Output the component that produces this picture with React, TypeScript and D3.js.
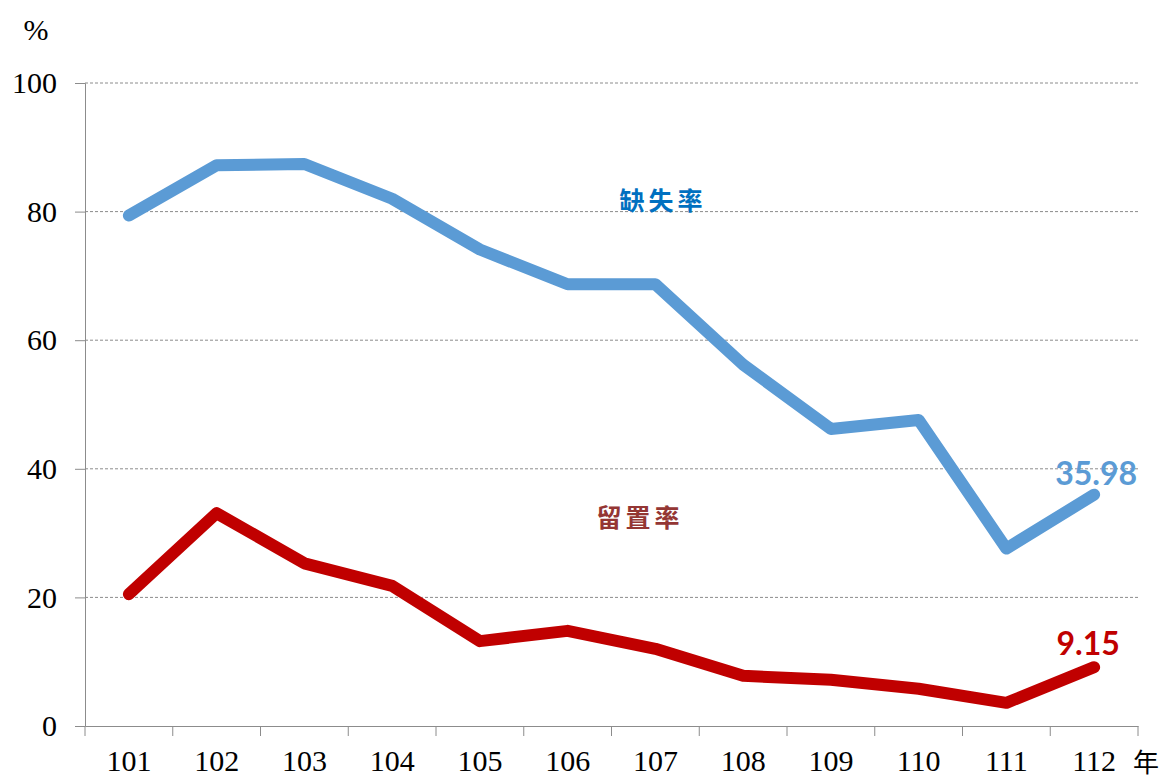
import { useEffect, useRef } from 'react';
import * as d3 from 'd3';

const years = ['101', '102', '103', '104', '105', '106', '107', '108', '109', '110', '111', '112'];
const missingRate = [79.4, 87.2, 87.4, 82.0, 74.1, 68.7, 68.7, 56.2, 46.2, 47.6, 27.6, 35.98];
const detainRate = [20.5, 33.1, 25.3, 21.8, 13.2, 14.8, 12.0, 7.8, 7.2, 5.8, 3.6, 9.15];
const yTicks = [0, 20, 40, 60, 80, 100];

const W = 1160;
const H = 778;
const margin = { left: 85, right: 22, top: 83, bottom: 52 };
const SERIF = "'Liberation Serif', 'Times New Roman', Tinos, serif";

export default function App() {
  const ref = useRef<SVGSVGElement | null>(null);

  useEffect(() => {
    if (!ref.current) return;
    const svg = d3.select(ref.current);
    svg.selectAll('*').remove();

    const x = d3.scaleBand().domain(years).range([margin.left, W - margin.right]);
    const y = d3.scaleLinear().domain([0, 100]).range([H - margin.bottom, margin.top]);
    const cx = (d: string) => x(d)! + x.bandwidth() / 2;

    // gridlines
    svg
      .append('g')
      .selectAll('line')
      .data(yTicks.filter((t) => t > 0))
      .enter()
      .append('line')
      .attr('x1', margin.left)
      .attr('x2', W - margin.right)
      .attr('y1', (d) => y(d))
      .attr('y2', (d) => y(d))
      .attr('stroke', '#8c8c8c')
      .attr('stroke-width', 1)
      .attr('stroke-dasharray', '3,2');

    // y axis
    const yAxis = svg
      .append('g')
      .attr('transform', `translate(${margin.left},0)`)
      .call(d3.axisLeft(y).tickValues(yTicks).tickSize(10).tickPadding(18));
    yAxis.attr('font-family', null).attr('font-size', null);
    yAxis.select('.domain').attr('stroke', '#8c8c8c');
    yAxis.selectAll('.tick line').attr('stroke', '#8c8c8c');
    yAxis
      .selectAll('text')
      .style('font-family', SERIF)
      .style('font-size', '30px')
      .attr('fill', '#000');

    // x axis
    const xAxis = svg
      .append('g')
      .attr('transform', `translate(0,${H - margin.bottom})`)
      .call(d3.axisBottom(x).tickSize(0).tickPadding(24));
    xAxis.attr('font-family', null).attr('font-size', null);
    xAxis.select('.domain').attr('stroke', '#8c8c8c');
    xAxis
      .selectAll('text')
      .style('font-family', SERIF)
      .style('font-size', '30px')
      .attr('fill', '#000');
    svg
      .append('g')
      .selectAll('line')
      .data(d3.range(years.length + 1))
      .enter()
      .append('line')
      .attr('x1', (i) => margin.left + i * x.bandwidth())
      .attr('x2', (i) => margin.left + i * x.bandwidth())
      .attr('y1', H - margin.bottom)
      .attr('y2', H - margin.bottom + 10)
      .attr('stroke', '#8c8c8c');

    const line = d3
      .line<number>()
      .x((_d, i) => cx(years[i]))
      .y((d) => y(d));

    const series = [
      { values: missingRate, color: '#5B9BD5' },
      { values: detainRate, color: '#C00000' },
    ];
    series.forEach((s) => {
      svg
        .append('path')
        .datum(s.values)
        .attr('d', line)
        .attr('fill', 'none')
        .attr('stroke', s.color)
        .attr('stroke-width', 12)
        .attr('stroke-linejoin', 'round')
        .attr('stroke-linecap', 'round');
    });

    // end labels
    const last = years[years.length - 1];
    svg
      .append('text')
      .attr('x', cx(last) + 2)
      .attr('y', y(missingRate[missingRate.length - 1]) - 10)
      .attr('text-anchor', 'middle')
      .style('font-family', "Lato, 'Open Sans', sans-serif")
      .style('font-weight', 'bold')
      .style('font-size', '32px')
      .attr('fill', '#5B9BD5')
      .text(String(missingRate[missingRate.length - 1]));
    svg
      .append('text')
      .attr('x', cx(last) - 6)
      .attr('y', y(detainRate[detainRate.length - 1]) - 12)
      .attr('text-anchor', 'middle')
      .style('font-family', "Lato, 'Open Sans', sans-serif")
      .style('font-weight', 'bold')
      .style('font-size', '32px')
      .attr('fill', '#C00000')
      .text(String(detainRate[detainRate.length - 1]));

    // series names
    svg
      .append('text')
      .attr('x', 663)
      .attr('y', 210)
      .attr('text-anchor', 'middle')
      .style('font-family', "'Noto Sans CJK TC', sans-serif")
      .style('font-weight', 'bold')
      .style('font-size', '25px')
      .attr('letter-spacing', 4)
      .attr('fill', '#0070C0')
      .text('缺失率');
    svg
      .append('text')
      .attr('x', 640)
      .attr('y', 527)
      .attr('text-anchor', 'middle')
      .style('font-family', "'Noto Sans CJK TC', sans-serif")
      .style('font-weight', 'bold')
      .style('font-size', '25px')
      .attr('letter-spacing', 4)
      .attr('fill', '#943634')
      .text('留置率');

    // unit labels
    svg
      .append('text')
      .attr('x', 36)
      .attr('y', 40)
      .attr('text-anchor', 'middle')
      .style('font-family', SERIF)
      .style('font-size', '30px')
      .text('%');
    svg
      .append('text')
      .attr('x', 1146)
      .attr('y', 772)
      .attr('text-anchor', 'middle')
      .style('font-family', "'Noto Sans CJK TC', serif")
      .style('font-size', '26px')
      .text('年');
  }, []);

  return (
    <svg
      ref={ref}
      width={W}
      height={H}
      style={{ position: 'absolute', left: 0, top: 0, background: '#fff' }}
    />
  );
}
